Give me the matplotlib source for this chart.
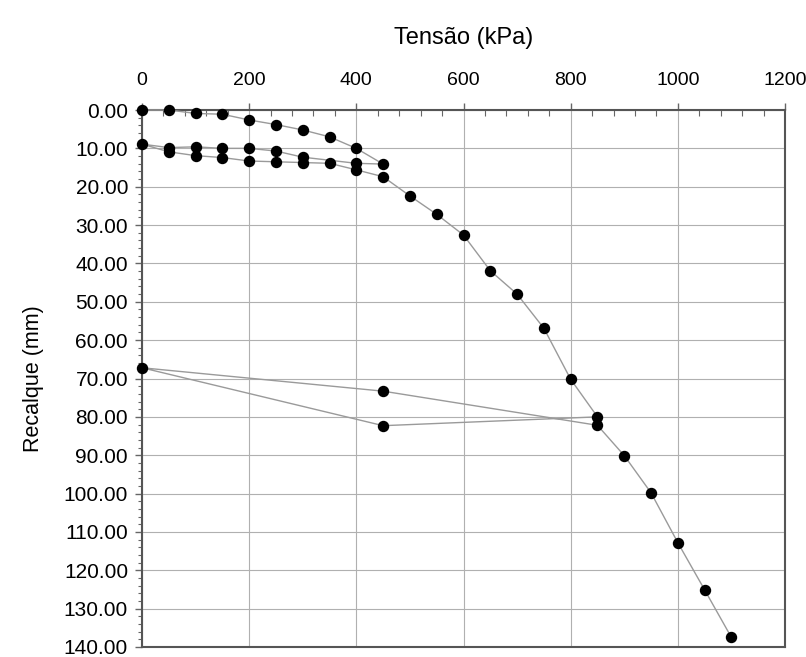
import matplotlib
matplotlib.use("Agg")
import matplotlib.pyplot as plt
from matplotlib.ticker import MultipleLocator, FormatStrFormatter

# Data: load (kPa) vs settlement (mm), plate load test with two unload/reload cycles
tensao = [0, 50, 100, 150, 200, 250, 300, 350, 400, 450,
          400, 300, 250, 200, 150, 100, 50, 0,
          50, 100, 150, 200, 250, 300, 350, 400, 450,
          500, 550, 600, 650, 700, 750, 800, 850,
          450, 0, 450, 850,
          900, 950, 1000, 1050, 1100]
recalque = [0.0, 0.0, 0.9, 1.1, 2.6, 3.8, 5.2, 7.0, 10.0, 14.1,
            13.9, 12.3, 10.7, 10.0, 10.0, 9.6, 9.8, 8.9,
            10.9, 11.9, 12.4, 13.3, 13.5, 13.7, 13.9, 15.6, 17.4,
            22.4, 27.2, 32.6, 41.9, 48.0, 56.9, 70.2, 80.0,
            82.3, 67.2, 73.3, 82.2,
            90.1, 99.8, 112.8, 125.1, 137.5]

x_label = "Tensão (kPa)"
y_label = "Recalque (mm)"

plt.rcParams['font.family'] = ['Liberation Sans', 'DejaVu Sans']

fig = plt.figure(figsize=(8.06, 6.57), dpi=100)
ax = fig.add_axes([142/806, 1 - 647/657, (785-142)/806, (647-110)/657])

ax.plot(tensao, recalque, color='#9a9a9a', lw=1.0, marker='o', ms=7.2,
        mfc='black', mec='black', zorder=3, clip_on=False)

ax.set_xlim(0, 1200)
ax.set_ylim(140, 0)

ax.xaxis.tick_top()
ax.xaxis.set_label_position('top')
ax.xaxis.set_major_locator(MultipleLocator(200))
ax.xaxis.set_minor_locator(MultipleLocator(40))
ax.yaxis.set_major_locator(MultipleLocator(10))
ax.yaxis.set_minor_locator(MultipleLocator(2))
ax.yaxis.set_major_formatter(FormatStrFormatter('%.2f'))

ax.tick_params(axis='x', which='major', direction='out', length=5, width=1,
               color='#666666', labelsize=14, pad=10)
ax.tick_params(axis='x', which='minor', direction='in', length=4, width=0.8,
               color='#666666')
ax.tick_params(axis='y', which='major', direction='out', length=5, width=1,
               color='#666666', labelsize=15, pad=5)
ax.tick_params(axis='y', which='minor', direction='out', length=3, width=0.8,
               color='#666666')

ax.grid(True, which='major', color='#b0b0b0', lw=0.8)
ax.set_axisbelow(True)

for s in ax.spines.values():
    s.set_color('#555555')
    s.set_linewidth(1.5)

ax.set_xlabel(x_label, fontsize=17, labelpad=20)
ax.set_ylabel(y_label, fontsize=15.5, labelpad=14)

fig.savefig('out.png', dpi=100)
